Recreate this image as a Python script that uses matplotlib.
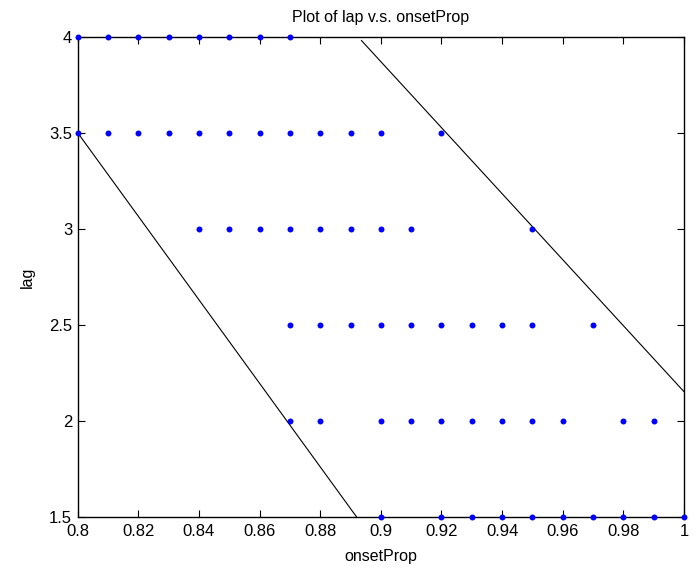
import matplotlib
matplotlib.use("Agg")
import matplotlib.pyplot as plt

plt.rcParams['font.family'] = ['Liberation Sans', 'DejaVu Sans']

# onsetProp values observed at each lag level
onset_lag4 = [0.80, 0.81, 0.82, 0.83, 0.84, 0.85, 0.86, 0.87]
onset_lag35 = [0.80, 0.81, 0.82, 0.83, 0.84, 0.85, 0.86, 0.87, 0.88, 0.89, 0.90, 0.92]
onset_lag3 = [0.84, 0.85, 0.86, 0.87, 0.88, 0.89, 0.90, 0.91, 0.95]
onset_lag25 = [0.87, 0.88, 0.89, 0.90, 0.91, 0.92, 0.93, 0.94, 0.95, 0.97]
onset_lag2 = [0.87, 0.88, 0.90, 0.91, 0.92, 0.93, 0.94, 0.95, 0.96, 0.98, 0.99]
onset_lag15 = [0.90, 0.92, 0.93, 0.94, 0.95, 0.96, 0.97, 0.98, 0.99, 1.00]

lag_levels = [4.0, 3.5, 3.0, 2.5, 2.0, 1.5]

# boundary lines (endpoints in data units)
boundary_low_x = [0.80, 0.892]
boundary_low_y = [3.5, 1.5]
boundary_high_x = [0.8936, 1.0]
boundary_high_y = [3.98, 2.152]

xticks = [0.8, 0.82, 0.84, 0.86, 0.88, 0.9, 0.92, 0.94, 0.96, 0.98, 1.0]
xtick_labels = ['0.8', '0.82', '0.84', '0.86', '0.88', '0.9', '0.92', '0.94', '0.96', '0.98', '1']
yticks = [1.5, 2, 2.5, 3, 3.5, 4]
ytick_labels = ['1.5', '2', '2.5', '3', '3.5', '4']

fig = plt.figure(figsize=(6.98, 5.69), dpi=100)
ax = fig.add_axes([0.1113, 0.0914, 0.8687, 0.8441])

groups = [onset_lag4, onset_lag35, onset_lag3, onset_lag25, onset_lag2, onset_lag15]
for xs, lv in zip(groups, lag_levels):
    ax.plot(xs, [lv] * len(xs), linestyle='none', marker='o', markersize=4.3,
            color='#0000ff', markeredgewidth=0, clip_on=False, zorder=3)

ax.plot(boundary_low_x, boundary_low_y, color='black', linewidth=0.8)
ax.plot(boundary_high_x, boundary_high_y, color='black', linewidth=0.8)

ax.set_xlim(0.8, 1.0)
ax.set_ylim(1.5, 4.0)
ax.set_xticks(xticks)
ax.set_xticklabels(xtick_labels)
ax.set_yticks(yticks)
ax.set_yticklabels(ytick_labels)
ax.tick_params(direction='in', length=5, width=0.8, top=True, right=True,
               labelsize=12)
ax.tick_params(axis='x', pad=5)
ax.tick_params(axis='y', pad=4)
for sp in ax.spines.values():
    sp.set_linewidth(1.0)

ax.set_title('Plot of lap v.s. onsetProp', fontsize=11.5, pad=10.5)
ax.set_xlabel('onsetProp', fontsize=11.5, labelpad=7)
ax.set_ylabel('lag', fontsize=11.5, labelpad=10)

fig.savefig('out.png', dpi=100)
